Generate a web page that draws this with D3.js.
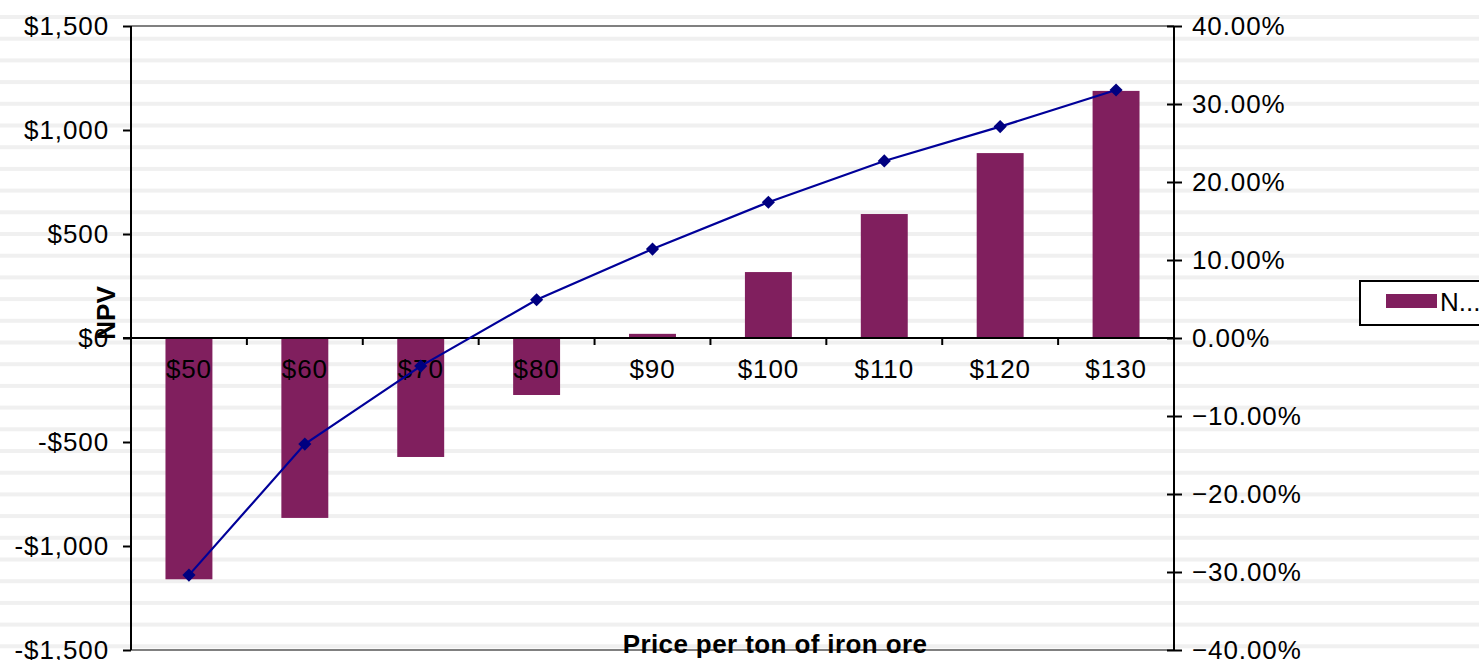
<!DOCTYPE html>
<html>
<head>
<meta charset="utf-8">
<script src="https://cdn.jsdelivr.net/npm/d3@7"></script>
<style>
  html, body { margin: 0; padding: 0; background: #ffffff; }
  svg { display: block; font-family: "Liberation Sans", Arial, sans-serif; }
</style>
</head>
<body>
<svg id="chart" width="1479" height="660"></svg>
<script>
// ---- data ----
const categories = ["$50", "$60", "$70", "$80", "$90", "$100", "$110", "$120", "$130"];
const npvValues = [-1160, -865, -572, -274, 20, 317, 596, 889, 1188];
const irrValues = [-0.304, -0.136, -0.036, 0.049, 0.114, 0.174, 0.227, 0.271, 0.318];
const leftTicks = [-1500, -1000, -500, 0, 500, 1000, 1500];
const rightTicks = [-0.4, -0.3, -0.2, -0.1, 0, 0.1, 0.2, 0.3, 0.4];
const seriesName = "N...";
const xTitle = "Price per ton of iron ore";
const yTitle = "NPV";

const W = 1479, H = 660;
const plot = { left: 131, right: 1174, top: 26, bottom: 650 };
const FS = 26, LS = 0.9;
const svg = d3.select("#chart");

// background stripes
const stripeY = d3.range(17, H, 21.7);
svg.append("g").selectAll("rect").data(stripeY).join("rect")
  .attr("x", 0).attr("width", W)
  .attr("y", d => d - 2).attr("height", 4)
  .attr("fill", "#f0f0f0");

const x = d3.scaleBand().domain(categories)
  .range([plot.left, plot.right]).paddingInner(0.595).paddingOuter(0.2975);
const yL = d3.scaleLinear().domain([-1500, 1500]).range([plot.bottom, plot.top]);
const yR = d3.scaleLinear().domain([-0.4, 0.4]).range([plot.bottom, plot.top]);

// top and bottom plot border lines (gray)
svg.append("line").attr("x1", plot.left).attr("x2", plot.right)
  .attr("y1", plot.top).attr("y2", plot.top).attr("stroke", "#808080").attr("stroke-width", 2);
svg.append("line").attr("x1", plot.left).attr("x2", plot.right)
  .attr("y1", plot.bottom).attr("y2", plot.bottom).attr("stroke", "#808080").attr("stroke-width", 2);

// bars
svg.append("g").selectAll("rect").data(npvValues).join("rect")
  .attr("x", (d, i) => x(categories[i]))
  .attr("width", x.bandwidth())
  .attr("y", d => yL(Math.max(0, d)))
  .attr("height", d => Math.abs(yL(d) - yL(0)))
  .attr("fill", "#801f5e");

// left axis
const la = svg.append("g").attr("transform", `translate(${plot.left},0)`)
  .call(d3.axisLeft(yL).tickValues(leftTicks).tickSize(8).tickPadding(14)
    .tickFormat(d => (d < 0 ? "-$" : "$") + d3.format(",")(Math.abs(d))));
la.select(".domain").attr("stroke", "#000").attr("stroke-width", 2).attr("d", `M0,${plot.top}V${plot.bottom}`);
la.selectAll(".tick line").attr("stroke", "#000").attr("stroke-width", 2);
la.selectAll(".tick text").attr("font-size", FS).attr("letter-spacing", LS).attr("fill", "#000")
  .attr("font-family", "Liberation Sans, Arial, sans-serif");

// right axis
const ra = svg.append("g").attr("transform", `translate(${plot.right},0)`)
  .call(d3.axisRight(yR).tickValues(rightTicks).tickSize(8).tickPadding(10)
    .tickFormat(d3.format(".2%")));
ra.select(".domain").attr("stroke", "#000").attr("stroke-width", 2).attr("d", `M0,${plot.top}V${plot.bottom}`);
ra.selectAll(".tick line").attr("stroke", "#000").attr("stroke-width", 2).attr("x1", -7);
ra.selectAll(".tick text").attr("font-size", FS).attr("letter-spacing", LS).attr("fill", "#000")
  .attr("font-family", "Liberation Sans, Arial, sans-serif");

// category axis along zero line
const boundaries = d3.range(1, categories.length + 1).map(i => plot.left + i * x.step());
const za = svg.append("g");
za.append("line").attr("x1", plot.left - 8).attr("x2", plot.right)
  .attr("y1", yL(0)).attr("y2", yL(0)).attr("stroke", "#000").attr("stroke-width", 2);
za.selectAll("line.tk").data(boundaries).join("line").attr("class", "tk")
  .attr("x1", d => d).attr("x2", d => d).attr("y1", yL(0)).attr("y2", yL(0) + 7)
  .attr("stroke", "#000").attr("stroke-width", 2);
za.selectAll("text").data(categories).join("text")
  .attr("x", d => x(d) + x.bandwidth() / 2)
  .attr("y", yL(0) + 40)
  .attr("text-anchor", "middle").attr("font-size", FS).attr("letter-spacing", LS).attr("fill", "#000")
  .text(d => d);

// IRR line
const line = d3.line().x((d, i) => x(categories[i]) + x.bandwidth() / 2).y(d => yR(d));
svg.append("path").datum(irrValues).attr("d", line)
  .attr("fill", "none").attr("stroke", "#000099").attr("stroke-width", 2.2);
svg.append("g").selectAll("path").data(irrValues).join("path")
  .attr("d", d3.symbol().type(d3.symbolDiamond2).size(110))
  .attr("transform", (d, i) => `translate(${x(categories[i]) + x.bandwidth() / 2},${yR(d)})`)
  .attr("fill", "#000080");

// axis titles
svg.append("text").attr("transform", "translate(115,313) rotate(-90)")
  .attr("text-anchor", "middle").attr("font-size", FS).attr("font-weight", "bold")
  .attr("fill", "#000").text(yTitle);
svg.append("text").attr("x", 775).attr("y", 653)
  .attr("text-anchor", "middle").attr("font-size", FS).attr("font-weight", "bold").attr("letter-spacing", 0.4)
  .attr("fill", "#000").text(xTitle);

// legend
const lg = svg.append("g");
lg.append("rect").attr("x", 1360).attr("y", 281).attr("width", 140).attr("height", 44)
  .attr("fill", "#fff").attr("stroke", "#000").attr("stroke-width", 2);
lg.append("rect").attr("x", 1386).attr("y", 294).attr("width", 51).attr("height", 14)
  .attr("fill", "#801f5e");
lg.append("text").attr("x", 1440).attr("y", 311).attr("font-size", FS).attr("fill", "#000")
  .text(seriesName);
</script>
</body>
</html>
